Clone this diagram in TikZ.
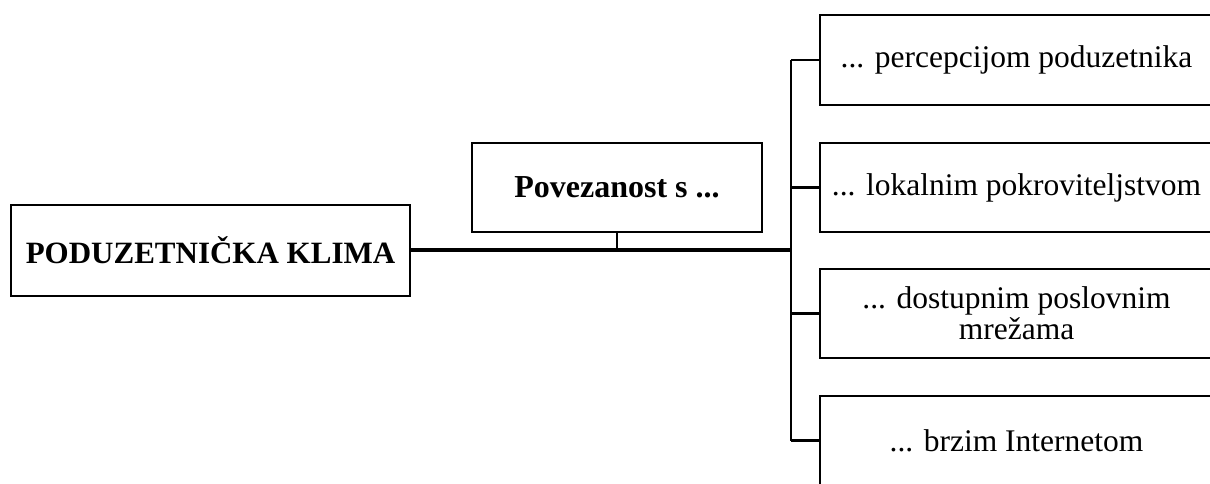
\documentclass[tikz,border=0pt]{standalone}
\usepackage{fontspec}
\setmainfont{Liberation Serif}
\begin{document}
\begin{tikzpicture}[x=1pt,y=-1pt,
  box/.style={draw=black,line width=2.6pt,fill=white,align=center,inner sep=0pt,font=\fontsize{31.5}{31}\selectfont},
  conn/.style={draw=black,line width=2.6pt},
  mainline/.style={draw=black,line width=3.4pt}]
\useasboundingbox (0,0) rectangle (1210,483);
\clip (0,0) rectangle (1210,483);
\node[box,minimum width=399pt,minimum height=91pt,font=\fontsize{31}{33}\selectfont\bfseries] (klima) at (210.5,250.5) {PODUZETNIČKA KLIMA};
\node[box,minimum width=290pt,minimum height=89pt,font=\fontsize{32}{34}\selectfont\bfseries] (pov) at (617,187.5) {Povezanost s ...};
\node[box,minimum width=393pt,minimum height=90pt] (r1) at (1016.5,60) {... percepcijom poduzetnika};
\node[box,minimum width=393pt,minimum height=89pt] (r2) at (1016.5,187.5) {... lokalnim pokroviteljstvom};
\node[box,minimum width=393pt,minimum height=89pt] (r3) at (1016.5,313.5) {... dostupnim poslovnim\\mrežama};
\node[box,minimum width=393pt,minimum height=89pt] (r4) at (1016.5,440.5) {... brzim Internetom};
\coordinate (bustop) at (791,60);
\coordinate (busbot) at (791,440.5);
\coordinate (joint) at (791,250);
\draw[mainline] (klima.east |- joint) -- (joint);
\draw[conn] (pov.south) -- (pov.south |- joint);
\draw[conn] (bustop) -- (busbot);
\draw[conn] (bustop) -- (r1.west);
\draw[conn] (bustop |- r2.west) -- (r2.west);
\draw[conn] (bustop |- r3.west) -- (r3.west);
\draw[conn] (busbot) -- (r4.west);
\end{tikzpicture}
\end{document}
